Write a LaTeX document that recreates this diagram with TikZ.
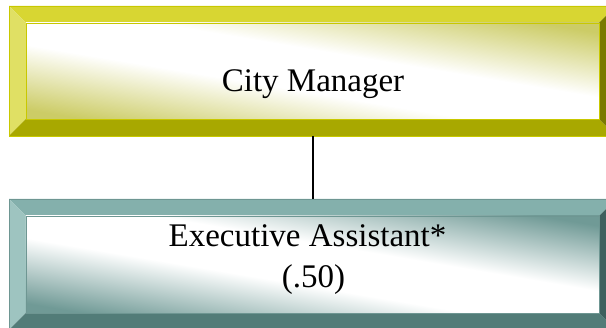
\documentclass[tikz,border=0pt]{standalone}
\usepackage{fontspec}
\setmainfont{Liberation Serif}
\definecolor{yTop}{RGB}{216,214,50}
\definecolor{yLeft}{RGB}{224,224,100}
\definecolor{yBot}{RGB}{168,168,0}
\definecolor{yRight}{RGB}{122,122,0}
\definecolor{yFace}{RGB}{204,204,102}
\definecolor{yLine}{RGB}{200,200,0}
\definecolor{tTop}{RGB}{132,176,172}
\definecolor{tLeft}{RGB}{158,196,192}
\definecolor{tBot}{RGB}{82,124,120}
\definecolor{tRight}{RGB}{62,96,94}
\definecolor{tFace}{RGB}{112,154,150}
\definecolor{tLine}{RGB}{110,150,146}
\pgfdeclareverticalshading{yfaceshade}{100bp}{color(0bp)=(yFace); color(18bp)=(yFace); color(42bp)=(white); color(58bp)=(white); color(82bp)=(yFace); color(100bp)=(yFace)}
\pgfdeclareverticalshading{tfaceshade}{100bp}{color(0bp)=(tFace); color(18bp)=(tFace); color(42bp)=(white); color(58bp)=(white); color(82bp)=(tFace); color(100bp)=(tFace)}
\tikzset{
  boxnode/.style={inner sep=0pt, minimum width=607pt, minimum height=130pt, anchor=north west},
  label text/.style={font=\fontsize{33}{41}\selectfont, inner sep=0pt, anchor=base},
  connector/.style={line width=2pt, black}
}
\begin{document}
\begin{tikzpicture}[x=1pt,y=-1pt]
\useasboundingbox (0,0) rectangle (606,328);
\fill[white] (0,0) rectangle (606,328);
% top box (City Manager)
\node[boxnode] (cmbox) at (9,6) {};
\fill[yTop] (9,6) -- (606,6) -- (606,16) -- (599,23) -- (26,23) -- cycle;
\fill[yLeft] (9,6) -- (26,23) -- (26,119) -- (9,136) -- cycle;
\fill[yBot] (9,136) -- (26,119) -- (599,119) -- (606,126) -- (606,136) -- cycle;
\fill[yRight] (606,16) -- (599,23) -- (599,119) -- (606,126) -- cycle;
\begin{scope}[transform canvas={shift={(312.5,71)}, xscale=5.96875}]
\path[shading=yfaceshade, shading angle=-45] (-48,-48) rectangle (48,48);
\end{scope}
\draw[yLine, line width=0.6pt] (606,6) -- (9,6) -- (9,136) -- (606,136);
\draw[yLine, line width=0.5pt] (26,23) rectangle (599,119);
\node[label text] (cm) at (313,92) {City Manager};
% bottom box (Executive Assistant)
\node[boxnode] (eabox) at (9,199) {};
\fill[tTop] (9,199) -- (606,199) -- (606,209) -- (599,216) -- (26,216) -- cycle;
\fill[tLeft] (9,199) -- (26,216) -- (26,313) -- (11,328) -- (9,328) -- cycle;
\fill[tBot] (11,328) -- (26,313) -- (599,313) -- (606,320) -- (606,328) -- cycle;
\fill[tRight] (606,209) -- (599,216) -- (599,313) -- (606,320) -- cycle;
\begin{scope}[transform canvas={shift={(312.5,264.5)}, xscale=5.90722}]
\path[shading=tfaceshade, shading angle=-45] (-48.5,-48.5) rectangle (48.5,48.5);
\end{scope}
\draw[tLine, line width=0.6pt] (606,199) -- (9,199) -- (9,328);
\draw[tLine, line width=0.5pt] (26,216) rectangle (599,313);
\node[label text] (ea1) at (307.5,246.5) {Executive Assistant*};
\node[label text] (ea2) at (313.5,288) {(.50)};
% connector
\draw[connector] (cmbox.south) -- (eabox.north);
\end{tikzpicture}
\end{document}
